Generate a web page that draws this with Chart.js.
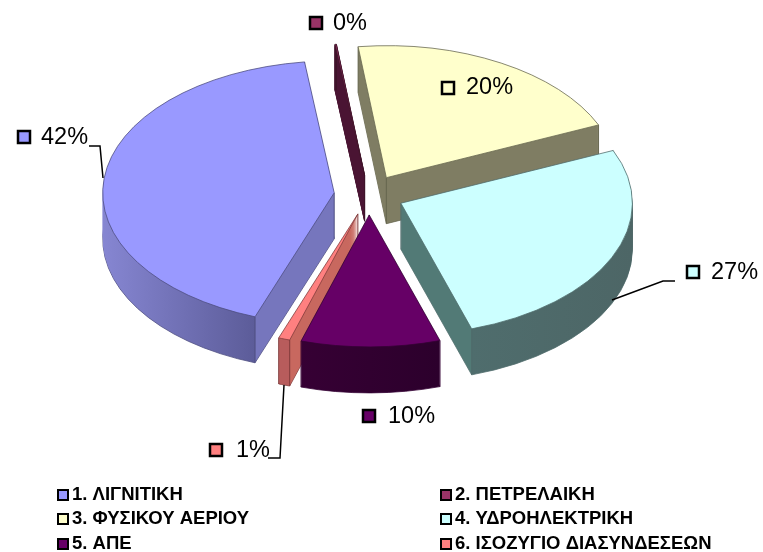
<!DOCTYPE html>
<html>
<head>
<meta charset="utf-8">
<title>Pie 3D</title>
<style>
  html, body { margin: 0; padding: 0; background: #fff; overflow: hidden; }
  canvas { display: block; }
</style>
<script src="https://cdn.jsdelivr.net/npm/chart.js@4/dist/chart.umd.min.js"></script>
</head>
<body>
<canvas id="pie" width="763" height="552"></canvas>
<script>
// Data
const categories = ['1. ΛΙΓΝΙΤΙΚΗ', '2. ΠΕΤΡΕΛΑΙΚΗ', '3. ΦΥΣΙΚΟΥ ΑΕΡΙΟΥ', '4. ΥΔΡΟΗΛΕΚΤΡΙΚΗ', '5. ΑΠΕ', '6. ΙΣΟΖΥΓΙΟ ΔΙΑΣΥΝΔΕΣΕΩΝ'];
const shares = [42.4, 0.1, 20.4, 26.6, 9.7, 0.8];

// Colours
const topColors  = ['#9999ff', '#993366', '#ffffcc', '#ccffff', '#660066', '#ff8080'];
const edgeColors = ['#4d4d80', '#3d1428', '#66664f', '#4f6b6b', '#330033', '#803a3a'];
const wallColors = ['#7676bd', '#4a1433', '#7f7d63', '#527a76', '#2e002e', '#c8685f'];
const rimLeft    = ['#8686d2', '#4a1433', '#7f7d63', '#4f6d6d', '#360034', '#b85c5c'];
const rimRight   = ['#5c5c99', '#4a1433', '#7f7d63', '#4d6666', '#2c002c', '#b85c5c'];

// Back slices first so that the front ones cover them
const drawOrder = [1, 2, 0, 3, 5, 4];

// Pie projection
const PIE_X = 369;
const PIE_Y = 195;
const SQUASH = 0.57;
const DEPTH = 46;
const EXPLODE = 35;

// Labels: key box and text, one per category
const labelKeys = [[17, 130], [309, 16], [441, 81], [686, 265], [362, 409], [209, 443]];
const labelText = [[41, 138], [333, 24], [466, 88], [711, 273], [388, 417], [236, 451]];
const leaders = [
  [[89, 146], [100, 146], [103, 178]],
  [[675, 281], [663, 281], [612, 300]],
  [[268, 458], [280, 458], [284, 385]],
];

// Legend layout
const legendCols = [57, 440];
const legendRows = [489, 513, 538];

const FONT = '"Liberation Sans", Arial, sans-serif';

// Side of a slice: outer rim and radial wall split at the slice corner
function sideFill(ctx, arc, i) {
  const R = arc.outerRadius;
  const g = ctx.createLinearGradient(arc.x - R, 0, arc.x + R, 0);
  const f = (1 + Math.cos(i === 3 ? arc.endAngle : arc.startAngle)) / 2;
  if (i === 3) {
    g.addColorStop(0, wallColors[i]);
    g.addColorStop(f, wallColors[i]);
    g.addColorStop(f, rimLeft[i]);
    g.addColorStop(1, rimRight[i]);
  } else if (i === 4) {
    g.addColorStop(0.35, rimLeft[i]);
    g.addColorStop(0.65, rimRight[i]);
  } else {
    g.addColorStop(0, rimLeft[i]);
    g.addColorStop(f, rimRight[i]);
    g.addColorStop(f, wallColors[i]);
    g.addColorStop(1, wallColors[i]);
  }
  return g;
}

function drawLayer(ctx, arc, ex, ey, dz, fill, border, width) {
  const saved = arc.options;
  arc.options = { ...saved, backgroundColor: fill, borderColor: border, borderWidth: width };
  ctx.save();
  ctx.translate(PIE_X, PIE_Y + dz);
  ctx.scale(1, SQUASH);
  ctx.translate(ex - arc.x, ey - arc.y);
  arc.draw(ctx);
  ctx.restore();
  arc.options = saved;
}

const pie3d = {
  id: 'pie3d',
  beforeDatasetDraw(chart, args) {
    const ctx = chart.ctx;
    const arcs = chart.getDatasetMeta(args.index).data;
    drawOrder.forEach(i => {
      const arc = arcs[i];
      const mid = (arc.startAngle + arc.endAngle) / 2;
      const ex = EXPLODE * Math.cos(mid);
      const ey = EXPLODE * Math.sin(mid);
      const fill = sideFill(ctx, arc, i);
      // The thinnest slice needs a stroke or its wall fades out near the tip
      const layerBorder = i === 1 ? 1.2 : 0;

      drawLayer(ctx, arc, ex, ey, DEPTH, fill, edgeColors[i], 1);
      for (let dz = DEPTH - 1; dz > 0; dz--) {
        drawLayer(ctx, arc, ex, ey, dz, fill, fill, layerBorder);
      }

      // Vertical edges, the top face hides the ones at the back
      const corners = [[0, 0],
        [arc.outerRadius * Math.cos(arc.startAngle), arc.outerRadius * Math.sin(arc.startAngle)],
        [arc.outerRadius * Math.cos(arc.endAngle), arc.outerRadius * Math.sin(arc.endAngle)]];
      ctx.strokeStyle = edgeColors[i];
      ctx.lineWidth = 1;
      corners.forEach(c => {
        const px = PIE_X + ex + c[0];
        const py = PIE_Y + SQUASH * (ey + c[1]);
        ctx.beginPath();
        ctx.moveTo(px, py);
        ctx.lineTo(px, py + DEPTH);
        ctx.stroke();
      });

      drawLayer(ctx, arc, ex, ey, 0, topColors[i], edgeColors[i], 1);
    });
    return false;
  },
  afterDraw(chart) {
    const ctx = chart.ctx;
    ctx.save();

    // Leader lines
    ctx.strokeStyle = '#000';
    ctx.lineWidth = 1.5;
    leaders.forEach(pts => {
      ctx.beginPath();
      pts.forEach((p, n) => (n ? ctx.lineTo(p[0], p[1]) : ctx.moveTo(p[0], p[1])));
      ctx.stroke();
    });

    // Percent labels
    ctx.textBaseline = 'middle';
    ctx.textAlign = 'left';
    ctx.fillStyle = '#000';
    ctx.font = '23.5px ' + FONT;
    shares.forEach((v, i) => {
      const key = labelKeys[i];
      ctx.fillStyle = topColors[i];
      ctx.fillRect(key[0] + 1, key[1] + 1, 12, 12);
      ctx.lineWidth = 2.5;
      ctx.strokeRect(key[0] + 1, key[1] + 1, 12, 12);
      ctx.fillStyle = '#000';
      ctx.fillText(Math.round(v) + '%', labelText[i][0], labelText[i][1]);
    });

    // Legend, two columns
    ctx.font = 'bold 18.5px ' + FONT;
    categories.forEach((name, i) => {
      const x = legendCols[i % 2];
      const y = legendRows[Math.floor(i / 2)];
      ctx.fillStyle = topColors[i];
      ctx.fillRect(x + 1, y + 1, 10, 10);
      ctx.lineWidth = 2;
      ctx.strokeRect(x + 1, y + 1, 10, 10);
      ctx.fillStyle = '#000';
      ctx.fillText(name, x + 15, y + 6);
    });
    ctx.restore();
  },
};

new Chart(document.getElementById('pie'), {
  type: 'pie',
  data: {
    labels: categories,
    datasets: [{
      data: shares,
      backgroundColor: topColors,
      borderColor: edgeColors,
      borderWidth: 1,
    }],
  },
  options: {
    responsive: false,
    animation: false,
    rotation: 200,
    layout: { padding: { top: 44, bottom: 44, left: 100, right: 100 } },
    plugins: { legend: { display: false }, tooltip: { enabled: false } },
  },
  plugins: [pie3d],
});
</script>
</body>
</html>
